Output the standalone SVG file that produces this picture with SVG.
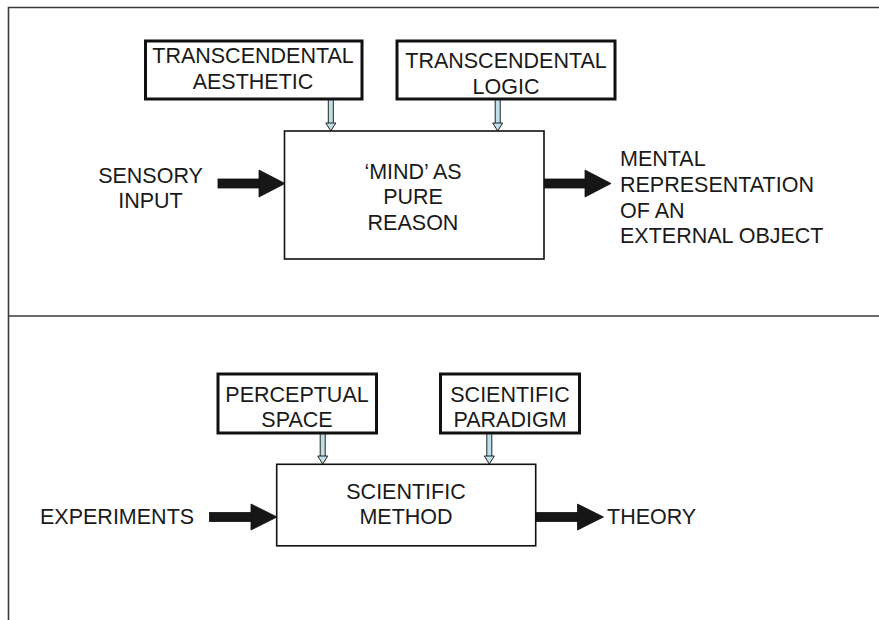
<svg xmlns="http://www.w3.org/2000/svg" width="879" height="620" viewBox="0 0 879 620">
<style>
text{font-family:"Liberation Sans",Arial,sans-serif;font-size:21.5px;fill:#1a1a1a}
.c{text-anchor:middle}
.frame{stroke:#3a3a3a;stroke-width:1.6;fill:none}
.sub{fill:#fff;stroke:#111;stroke-width:3}
.main{fill:#fff;stroke:#111;stroke-width:1.6}
.big{fill:#161616;stroke:#111;stroke-width:0.8}
.thin{fill:#bfe0e8;stroke:#222;stroke-width:1}
</style>
<rect width="879" height="620" fill="#fff"/>
<g id="frame">
<path class="frame" d="M8.5 620 V7.5 H879"/>
<path class="frame" d="M8.5 316 H879"/>
</g>
<g id="connectors">
<!-- top section thin arrows -->
<rect class="thin" x="328.3" y="99" width="5" height="25"/>
<polygon class="thin" points="325.8,123 335.8,123 330.8,131"/>
<rect class="thin" x="495.2" y="99" width="5" height="25"/>
<polygon class="thin" points="492.7,123 502.7,123 497.7,131"/>
<!-- top big arrows -->
<rect class="big" x="218" y="179" width="46" height="9"/>
<polygon class="big" points="259,170 285,183.5 259,197"/>
<rect class="big" x="544" y="179" width="46" height="9"/>
<polygon class="big" points="585,170 611,183.5 585,197"/>
<!-- bottom thin arrows -->
<rect class="thin" x="320.2" y="433" width="5" height="24"/>
<polygon class="thin" points="317.7,456 327.7,456 322.7,464"/>
<rect class="thin" x="486.8" y="433" width="5" height="24"/>
<polygon class="thin" points="484.3,456 494.3,456 489.3,464"/>
<!-- bottom big arrows -->
<rect class="big" x="209.5" y="512.5" width="46" height="9"/>
<polygon class="big" points="251,504 277,517 251,530"/>
<rect class="big" x="536" y="512.5" width="46" height="9"/>
<polygon class="big" points="577.5,504 603.5,517 577.5,530"/>
</g>
<g id="transcendental-aesthetic">
<rect class="sub" x="145.5" y="41" width="216.5" height="58"/>
<text class="c" x="253" y="63">TRANSCENDENTAL</text>
<text class="c" x="253" y="88.5">AESTHETIC</text>
</g>
<g id="transcendental-logic">
<rect class="sub" x="397" y="41" width="218" height="58"/>
<text class="c" x="506" y="68">TRANSCENDENTAL</text>
<text class="c" x="506" y="93.5">LOGIC</text>
</g>
<g id="mind">
<rect class="main" x="284.5" y="131" width="259.5" height="128"/>
<text class="c" x="413" y="178.5">‘MIND’ AS</text>
<text class="c" x="413" y="204">PURE</text>
<text class="c" x="413" y="230">REASON</text>
</g>
<g id="sensory-input">
<text class="c" x="150.5" y="182.5">SENSORY</text>
<text class="c" x="150.5" y="208">INPUT</text>
</g>
<g id="mental-representation">
<text x="620" y="166">MENTAL</text>
<text x="620" y="191.5">REPRESENTATION</text>
<text x="620" y="217.5">OF AN</text>
<text x="620" y="242.5">EXTERNAL OBJECT</text>
</g>
<g id="perceptual-space">
<rect class="sub" x="218" y="374" width="158.5" height="59"/>
<text class="c" x="297" y="401.5">PERCEPTUAL</text>
<text class="c" x="297" y="427">SPACE</text>
</g>
<g id="scientific-paradigm">
<rect class="sub" x="440.5" y="374" width="139" height="59"/>
<text class="c" x="510" y="401.5">SCIENTIFIC</text>
<text class="c" x="510" y="427">PARADIGM</text>
</g>
<g id="scientific-method">
<rect class="main" x="276.7" y="464.3" width="259" height="81.5"/>
<text class="c" x="406" y="498.5">SCIENTIFIC</text>
<text class="c" x="406" y="524">METHOD</text>
</g>
<g id="experiments">
<text x="40" y="523.5">EXPERIMENTS</text>
</g>
<g id="theory">
<text x="607" y="523.5">THEORY</text>
</g>
</svg>
